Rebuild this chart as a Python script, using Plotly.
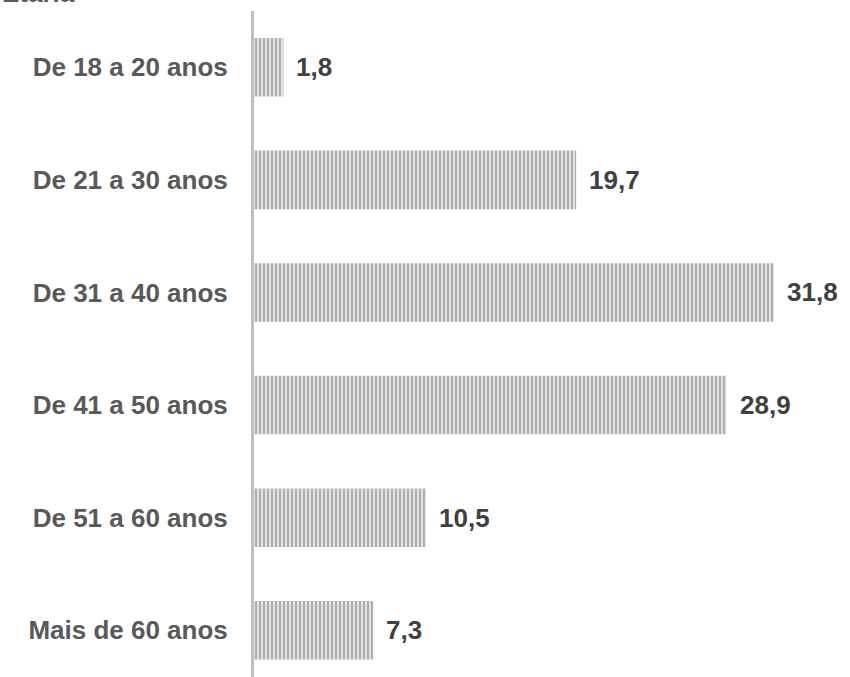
import plotly.graph_objects as go

categories = ["De 18 a 20 anos", "De 21 a 30 anos", "De 31 a 40 anos",
              "De 41 a 50 anos", "De 51 a 60 anos", "Mais de 60 anos"]
values = [1.8, 19.7, 31.8, 28.9, 10.5, 7.3]
value_labels = ["1,8", "19,7", "31,8", "28,9", "10,5", "7,3"]
title_text = "Etária"

FONT = "Liberation Sans, Arial, sans-serif"

fig = go.Figure()
fig.add_trace(go.Bar(
    x=values, y=categories, orientation="h", width=0.52,
    marker=dict(
        color="#d9d9d9",
        line=dict(width=0),
        pattern=dict(shape="|", fgcolor="#a8a8a8", bgcolor="#e2e2e2",
                     size=4, solidity=0.45, fillmode="replace"),
    ),
    hoverinfo="skip",
))

for c, v, t in zip(categories, values, value_labels):
    fig.add_annotation(x=v, y=c, text=t, showarrow=False, xanchor="left",
                       xshift=11, font=dict(family=FONT, size=26, color="#404040", weight="bold"))

fig.add_annotation(xref="paper", yref="paper", x=-254/596, y=1, xanchor="left",
                   yanchor="bottom", yshift=1, text=title_text, showarrow=False,
                   font=dict(family=FONT, size=26, color="#595959", weight="bold"))

fig.update_layout(
    width=850, height=677,
    margin=dict(l=254, r=0, t=11, b=0),
    paper_bgcolor="white", plot_bgcolor="white",
    showlegend=False,
    xaxis=dict(range=[0, 596/16.35], visible=False, showgrid=False, zeroline=False),
    yaxis=dict(type="category", categoryorder="array", categoryarray=categories,
               range=[5.415, -0.5], showline=True, linecolor="#bfbfbf", linewidth=3,
               showgrid=False, zeroline=False, ticks="", ticklabelstandoff=18,
               tickfont=dict(family=FONT, size=26, color="#595959", weight="bold")),
)

fig.write_html("out.html")
